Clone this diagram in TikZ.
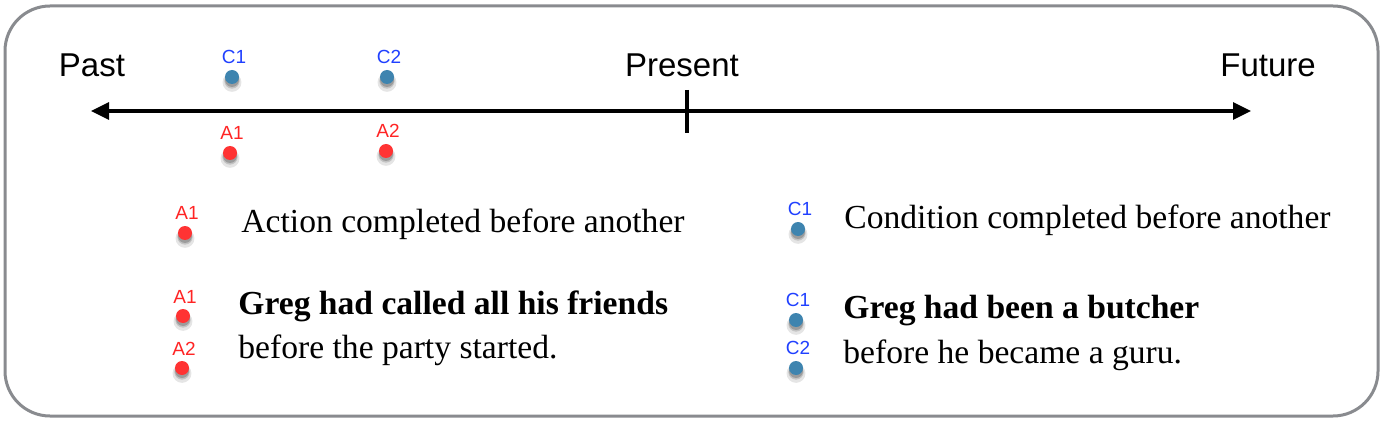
\documentclass[tikz,border=0pt]{standalone}
\usepackage{fontspec}
\setmainfont{Liberation Serif}
\setsansfont{Liberation Sans}
\usepackage{tikz}
\usetikzlibrary{arrows.meta, positioning, shadows}
\definecolor{dotred}{HTML}{FF3333}
\definecolor{txtred}{HTML}{FF2424}
\definecolor{dotblue}{HTML}{3E84AF}
\definecolor{txtblue}{HTML}{2040FF}
\definecolor{framegray}{HTML}{898B8F}

\begin{document}
\begin{tikzpicture}[x=0.5pt,y=-0.5pt,node distance=2.6pt,
    dot/.style={circle,minimum size=7pt,inner sep=0pt,
        drop shadow={shadow xshift=0pt,shadow yshift=-2pt,shadow scale=1.35,opacity=0.1,fill=black},
        drop shadow={shadow xshift=0pt,shadow yshift=-1.8pt,shadow scale=1.1,opacity=0.15,fill=black},
        drop shadow={shadow xshift=0pt,shadow yshift=-1.5pt,opacity=0.2,fill=black}},
    adot/.style={dot,fill=dotred},
    cdot/.style={dot,fill=dotblue},
    tag/.style={inner sep=0pt,xshift=1pt,font=\sffamily\fontsize{9.5pt}{11pt}\selectfont},
    atag/.style={tag,text=txtred},
    ctag/.style={tag,text=txtblue},
    timetext/.style={anchor=base,inner sep=0pt,font=\sffamily\fontsize{16.5pt}{20pt}\selectfont},
    legend/.style={anchor=base west,inner sep=0pt,font=\fontsize{16.8pt}{20pt}\selectfont}]
    \useasboundingbox (0,0) rectangle (1384,422);
    \draw[framegray,line width=1.5pt,rounded corners=22.5pt] (5,6) rectangle (1378,416);

    \coordinate (past) at (91,111);
    \coordinate (future) at (1251,111);
    \coordinate (nowtop) at (687,90);
    \coordinate (nowbot) at (687,133);
    \draw[line width=1.6pt,{Triangle[length=9pt,width=8.5pt]}-{Triangle[length=9pt,width=8.5pt]}] (past) -- (future);
    \draw[line width=1.6pt] (nowtop) -- (nowbot);

    \node[timetext] (tpast) at (92,77) {Past};
    \node[timetext] (tnow) at (682,77) {Present};
    \node[timetext] (tfuture) at (1268,77) {Future};

    \node[cdot] (c1) at (232,77) {};
    \node[cdot] (c2) at (387,77) {};
    \node[adot] (a1) at (230,153) {};
    \node[adot] (a2) at (386,151) {};
    \node[ctag] [above=of c1] {C1};
    \node[ctag] [above=of c2] {C2};
    \node[atag] [above=of a1] {A1};
    \node[atag] [above=of a2] {A2};

    \node[adot] (la1) at (185,233) {};
    \node[atag] [above=of la1] {A1};
    \node[legend] (laction) at (241,232) {Action completed before another};
    \node[cdot] (lc1) at (798,229) {};
    \node[ctag] [above=of lc1] {C1};
    \node[legend] (lcond) at (844,228) {Condition completed before another};

    \node[adot] (ea1) at (183,316) {};
    \node[atag] [above=of ea1] {A1};
    \node[adot] (ea2) at (182,368) {};
    \node[atag] [above=of ea2] {A2};
    \node[legend] (eact1) at (238,314) {\bfseries Greg had called all his friends};
    \node[legend] (eact2) at (238,358) {before the party started.};

    \node[cdot] (ec1) at (796,320) {};
    \node[ctag] [above=of ec1] {C1};
    \node[cdot] (ec2) at (796,368) {};
    \node[ctag] [above=of ec2] {C2};
    \node[legend] (econd1) at (843,318) {\bfseries Greg had been a butcher};
    \node[legend] (econd2) at (843,363) {before he became a guru.};
\end{tikzpicture}
\end{document}
